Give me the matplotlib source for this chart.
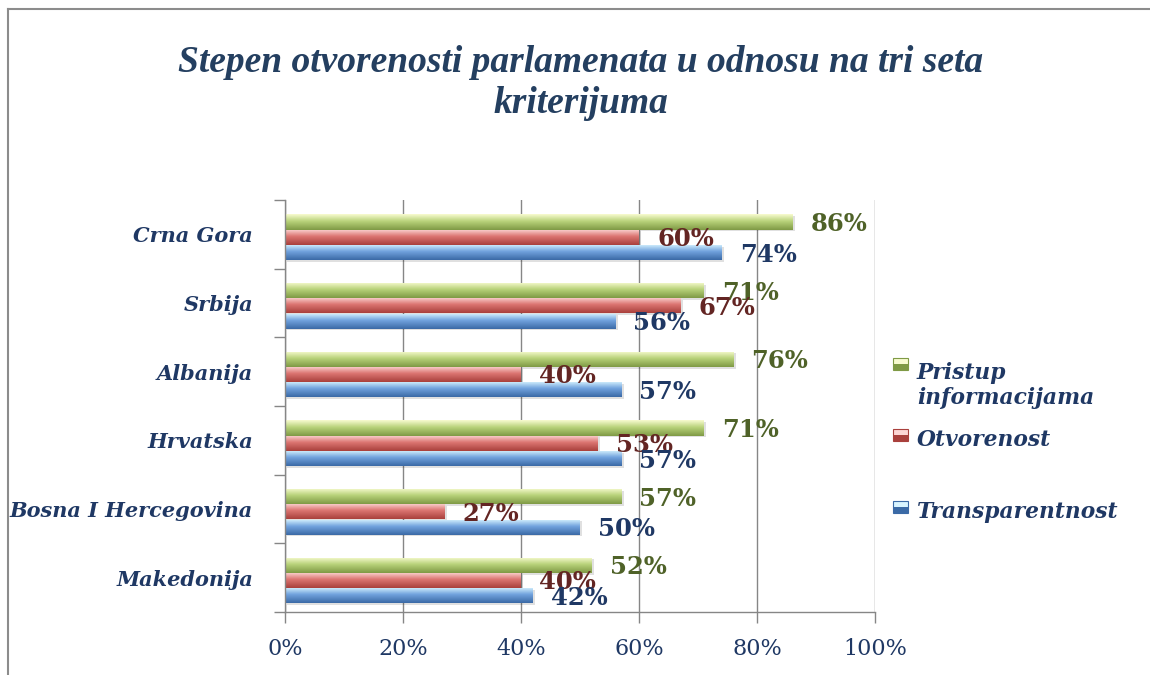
import numpy as np
import matplotlib.pyplot as plt
from matplotlib.colors import LinearSegmentedColormap
from matplotlib.patches import Rectangle
from matplotlib.lines import Line2D

countries = ['Makedonija', 'Bosna I Hercegovina', 'Hrvatska', 'Albanija', 'Srbija', 'Crna Gora']
pristup = [52, 57, 71, 76, 71, 86]
otvorenost = [40, 27, 53, 40, 67, 60]
transparentnost = [42, 50, 57, 57, 56, 74]

series_names = ['Pristup\ninformacijama', 'Otvorenost', 'Transparentnost']
series_vals = [pristup, otvorenost, transparentnost]
# gradient colors: bottom, middle, top
grad_colors = [['#7f9a45', '#b8d27a', '#f8fbd0'],
               ['#a9403c', '#dc7672', '#fcd6d4'],
               ['#3b6aa6', '#72a3de', '#d8f4ff']]
label_colors = ['#4f6228', '#632523', '#1f3864']
offsets = [0.18, -0.04, -0.265]
bar_h = 0.22

title_color = '#1f3864'

fig = plt.figure(figsize=(11.5, 6.75), dpi=100)
ax = fig.add_axes([285 / 1150, 1 - 612 / 675, 590 / 1150, 412 / 675])

y = np.arange(len(countries))
grad = np.linspace(0, 1, 64).reshape(-1, 1)

for vals, off, cols, lc in zip(series_vals, offsets, grad_colors, label_colors):
    cmap = LinearSegmentedColormap.from_list('g', [(0, cols[0]), (0.55, cols[1]), (1, cols[2])])
    bars = ax.barh(y + off, vals, height=bar_h, color=cols[1], edgecolor='none', zorder=3)
    for b in bars:
        x0, y0 = b.get_x(), b.get_y()
        w, h = b.get_width(), b.get_height()
        # soft shadow
        ax.add_patch(Rectangle((x0 + 0.4, y0 - 0.025), w, h, facecolor='#000000', alpha=0.12,
                               edgecolor='none', zorder=2.5))
        im = ax.imshow(grad, cmap=cmap, extent=[x0, x0 + w, y0, y0 + h], origin='lower',
                       aspect='auto', interpolation='bilinear', zorder=3.1)
        im.set_clip_path(b)
    for yy, v in zip(y + off, vals):
        ax.annotate(f'{v}%', (v, yy), xytext=(13, -1.5), textcoords='offset points',
                    va='center', ha='left', fontsize=17.5, fontweight='bold',
                    family='DejaVu Serif', color=lc, zorder=5)

ax.set_xlim(0, 100)
ax.set_ylim(-0.5, len(countries) - 0.5)
ax.set_xticks(np.arange(0, 101, 20))
ax.set_xticklabels([f'{t}%' for t in range(0, 101, 20)], family='DejaVu Serif',
                   fontsize=16, color=title_color)
ax.set_yticks(np.arange(-0.5, len(countries), 1))
ax.set_yticklabels([])
ax.set_yticks(y, minor=True)
ax.set_yticklabels(countries, minor=True, family='DejaVu Serif', fontsize=15,
                   fontweight='bold', style='italic', color=title_color)
ax.tick_params(axis='y', which='minor', length=0, pad=23)
ax.tick_params(axis='y', which='major', length=8, color='#868686', width=1)
ax.tick_params(axis='x', length=8, color='#868686', width=1, pad=11)
ax.grid(axis='x', color='#868686', lw=1, zorder=1)
ax.set_axisbelow(True)
for s in ['top', 'right']:
    ax.spines[s].set_visible(False)
for s in ['left', 'bottom']:
    ax.spines[s].set_color('#868686')
    ax.spines[s].set_linewidth(1)
    ax.spines[s].set_zorder(4)

fig.text(581 / 1150, 1 - 83 / 675, 'Stepen otvorenosti parlamenata u odnosu na tri seta\nkriterijuma',
         ha='center', va='center', fontsize=27, fontweight='bold', style='italic',
         family='Liberation Serif', color='#243f60', linespacing=1.2)

# legend
leg_y = [374, 440, 512]
mark_y = [364, 435, 507]
for name, cols, ty, my in zip(series_names, grad_colors, leg_y, mark_y):
    fig.patches.append(Rectangle((893 / 1150, 1 - (my + 6) / 675), 15 / 1150, 6 / 675,
                                 transform=fig.transFigure, facecolor=cols[0], edgecolor='none'))
    fig.patches.append(Rectangle((893 / 1150, 1 - my / 675), 15 / 1150, 6 / 675,
                                 transform=fig.transFigure, facecolor=cols[2], edgecolor='none'))
    fig.patches.append(Rectangle((893 / 1150, 1 - (my + 6) / 675), 15 / 1150, 12 / 675,
                                 transform=fig.transFigure, facecolor='none', edgecolor=cols[0], lw=0.8))
    fig.text(917 / 1150, 1 - (ty - 12 if '\n' in name else ty) / 675, name, ha='left',
             va='top' if '\n' in name else 'center',
             fontsize=15.7, fontweight='bold', style='italic', family='DejaVu Serif',
             color=title_color, linespacing=1.2)

# outer frame
fig.add_artist(Line2D([8 / 1150, 8 / 1150], [0, 1 - 9 / 675], transform=fig.transFigure,
                      color='#8c8c8c', lw=1.5))
fig.add_artist(Line2D([8 / 1150, 1], [1 - 9 / 675, 1 - 9 / 675], transform=fig.transFigure,
                      color='#8c8c8c', lw=1.5))

fig.savefig('out.png', dpi=100)
